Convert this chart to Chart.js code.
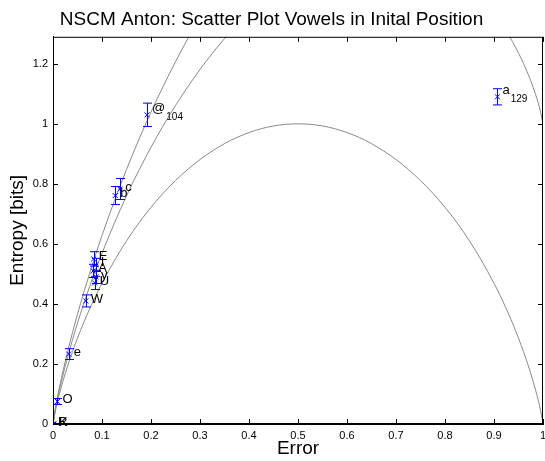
<!DOCTYPE html>
<html>
<head>
<meta charset="utf-8">
<script src="https://cdn.jsdelivr.net/npm/chart.js@4.4.0/dist/chart.umd.min.js"></script>
<style>
  html, body { margin: 0; padding: 0; background: #fff; }
  #wrap { width: 545px; height: 461px; }
</style>
</head>
<body>
<div id="wrap"><canvas id="scatterChart"></canvas></div>
<script>
// Vowel points (error, entropy, half error bar)
const vowelLabels = ['R', 'K', 'O', 'e', 'W', 'U', 'y', 'A', 'I', 'E', 'b', 'c', '@', 'a'];
const vowelSubs   = ['', '', '', '', '', '', '', '', '', '', '', '', '104', '129'];
const vowelError  = [0, 0.002, 0.009, 0.032, 0.067, 0.085, 0.088, 0.082, 0.087, 0.083, 0.127, 0.137, 0.192, 0.907];
const vowelEntropy = [0, 0, 0.075, 0.233, 0.41, 0.47, 0.49, 0.51, 0.53, 0.55, 0.761, 0.783, 1.03, 1.09];
const vowelSpread = [0, 0, 0.01, 0.018, 0.02, 0.022, 0.022, 0.022, 0.022, 0.024, 0.03, 0.035, 0.039, 0.027];

// Reference curves
const curveX = [0, 0.005, 0.01, 0.02, 0.03, 0.05, 0.075, 0.1, 0.15, 0.2, 0.25, 0.3, 0.35, 0.4, 0.45, 0.5,
  0.55, 0.6, 0.65, 0.7, 0.75, 0.8, 0.85, 0.9, 0.925, 0.95, 0.97, 0.98, 0.99, 0.995, 1];
const curve2 = [0, 0.045, 0.081, 0.141, 0.194, 0.286, 0.384, 0.469, 0.610, 0.722, 0.811, 0.881, 0.934, 0.971, 0.993, 1,
  0.993, 0.971, 0.934, 0.881, 0.811, 0.722, 0.610, 0.469, 0.384, 0.286, 0.194, 0.141, 0.081, 0.045, 0];
const curve3 = [0, 0.050, 0.091, 0.161, 0.224, 0.336, 0.459, 0.569, 0.760, 0.922, 1.061, 1.181, 1.284, 1.371, 1.443, 1.5,
  1.543, 1.571, 1.584, 1.581, 1.561, 1.522, 1.46, 1.369, 1.309, 1.236, 1.164, 1.121, 1.071, 1.040, 1];
const curve4 = [0, 0.053, 0.097, 0.173, 0.242, 0.366, 0.503, 0.628, 0.848, 1.039, 1.207, 1.357];

const xTicksStep = 0.1;
const yTicksStep = 0.2;

const FONT = 'Liberation Sans, Arial, Helvetica, sans-serif';

function pts(xs, ys) {
  return ys.map((y, i) => ({ x: xs[i], y: y }));
}

const curveStyle = {
  showLine: true,
  pointRadius: 0,
  borderColor: '#8a8a8a',
  borderWidth: 1,
  cubicInterpolationMode: 'monotone',
  fill: false
};

// error bars, labels and the inward tick box
const decorations = {
  id: 'decorations',
  afterDatasetsDraw(chart) {
    const { ctx, chartArea, scales } = chart;
    const xs = scales.x, ys = scales.y;
    ctx.save();

    // error bars
    ctx.strokeStyle = '#0000ff';
    ctx.lineWidth = 1;
    vowelError.forEach((ex, i) => {
      const d = vowelSpread[i];
      if (!d) return;
      const px = Math.round(xs.getPixelForValue(ex)) + 0.5;
      const top = ys.getPixelForValue(vowelEntropy[i] + d);
      const bot = ys.getPixelForValue(vowelEntropy[i] - d);
      ctx.beginPath();
      ctx.moveTo(px, top); ctx.lineTo(px, bot);
      ctx.moveTo(px - 4.5, top); ctx.lineTo(px + 4.5, top);
      ctx.moveTo(px - 4.5, bot); ctx.lineTo(px + 4.5, bot);
      ctx.stroke();
    });

    // point labels
    ctx.fillStyle = '#000';
    ctx.textBaseline = 'middle';
    ctx.textAlign = 'left';
    vowelLabels.forEach((lab, i) => {
      const px = xs.getPixelForValue(vowelError[i]) + 5;
      let py = ys.getPixelForValue(vowelEntropy[i]) - 2;
      if (vowelSubs[i]) py -= 4;
      ctx.font = '13px ' + FONT;
      ctx.fillText(lab, px, py);
      if (vowelSubs[i]) {
        const w = ctx.measureText(lab).width;
        ctx.font = '10px ' + FONT;
        ctx.fillText(vowelSubs[i], px + w + 1, py + 8);
      }
    });

    // box and inward ticks
    const { left, right, top, bottom } = chartArea;
    ctx.strokeStyle = '#000';
    ctx.lineWidth = 1;
    ctx.strokeRect(left + 0.5, top + 0.5, right - left - 1, bottom - top - 1);
    ctx.beginPath();
    xs.ticks.forEach(t => {
      const px = Math.round(xs.getPixelForValue(t.value)) + 0.5;
      ctx.moveTo(px, bottom); ctx.lineTo(px, bottom - 5);
      ctx.moveTo(px, top); ctx.lineTo(px, top + 5);
    });
    ys.ticks.forEach(t => {
      const py = Math.round(ys.getPixelForValue(t.value)) + 0.5;
      ctx.moveTo(left, py); ctx.lineTo(left + 5, py);
      ctx.moveTo(right, py); ctx.lineTo(right - 5, py);
    });
    ctx.stroke();
    ctx.restore();
  }
};

const ctx = document.getElementById('scatterChart').getContext('2d');
const scatterChart = new Chart(ctx, {
  type: 'scatter',
  data: {
    datasets: [
      {
        label: 'vowels',
        data: pts(vowelError, vowelEntropy),
        pointStyle: 'crossRot',
        pointRadius: 3.5,
        borderColor: '#0000ff',
        backgroundColor: '#0000ff',
        borderWidth: 1
      },
      Object.assign({ label: 'K2', data: pts(curveX, curve2) }, curveStyle),
      Object.assign({ label: 'K3', data: pts(curveX, curve3) }, curveStyle),
      Object.assign({ label: 'K4', data: pts(curveX, curve4) }, curveStyle)
    ]
  },
  options: {
    responsive: true,
    maintainAspectRatio: false,
    animation: false,
    layout: { autoPadding: false, padding: { left: 0, right: 2, top: 0, bottom: 0 } },
    plugins: {
      legend: { display: false },
      tooltip: { enabled: false },
      title: {
        display: true,
        text: 'NSCM Anton: Scatter Plot Vowels in Inital Position',
        color: '#000',
        font: { family: FONT, size: 19, weight: 'normal' },
        padding: { top: 8, bottom: 6 }
      }
    },
    scales: {
      x: {
        type: 'linear',
        min: 0,
        max: 1,
        afterFit: s => { s.height = 37; s.paddingRight = 0; s.paddingLeft = 0; },
        grid: { display: false, drawTicks: false },
        border: { display: true, color: '#000' },
        ticks: {
          stepSize: xTicksStep,
          color: '#000',
          padding: 5,
          maxRotation: 0,
          font: { family: FONT, size: 11 },
          callback: v => String(Number(v.toFixed(1)))
        },
        title: {
          display: true,
          text: 'Error',
          color: '#000',
          font: { family: FONT, size: 19 },
          padding: { top: 0, bottom: 1 }
        }
      },
      y: {
        type: 'linear',
        min: 0,
        max: 1.29,
        afterFit: s => { s.width = 53; },
        grid: { display: false, drawTicks: false },
        border: { display: true, color: '#000' },
        ticks: {
          stepSize: yTicksStep,
          includeBounds: false,
          color: '#000',
          padding: 5,
          font: { family: FONT, size: 11 },
          callback: v => String(Number(v.toFixed(1)))
        },
        title: {
          display: true,
          text: 'Entropy [bits]',
          color: '#000',
          font: { family: FONT, size: 19 },
          padding: { top: 6, bottom: 0 }
        }
      }
    }
  },
  plugins: [decorations]
});
</script>
</body>
</html>
